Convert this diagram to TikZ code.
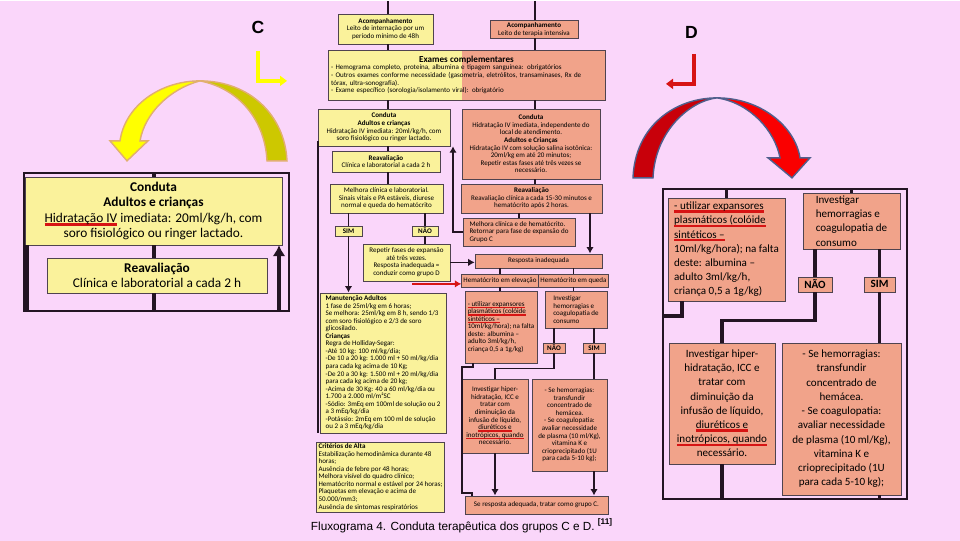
\documentclass[tikz,border=0pt]{standalone}
\usepackage{fontspec}
\setmainfont{Carlito}
\newfontfamily\capfont{Liberation Sans}
\usetikzlibrary{arrows.meta,positioning,calc}
\definecolor{pinkbg}{RGB}{250,214,250}
\definecolor{butter}{RGB}{250,242,155}
\definecolor{salmon}{RGB}{241,163,138}
\definecolor{ink}{RGB}{35,20,35}
\definecolor{ulred}{RGB}{215,20,20}
\definecolor{lemon}{RGB}{255,255,0}
\definecolor{olive}{RGB}{205,200,0}
\definecolor{tan}{RGB}{225,175,110}
\definecolor{blood}{RGB}{200,0,10}
\definecolor{scarlet}{RGB}{250,0,0}
\definecolor{slate}{RGB}{80,95,140}
\newsavebox\ulbox
\newcommand\redul[1]{\sbox\ulbox{#1}\rlap{\textcolor{ulred}{\rule[-0.6ex]{\wd\ulbox}{0.45ex}}}\usebox\ulbox}
\tikzset{
  wh/.style 2 args={minimum width=#1*0.02cm,minimum height=#2*0.02cm},
  cf/.style={font=\fontsize{4}{4.3}\selectfont},
  lpf/.style={font=\fontsize{7.6}{8.8}\selectfont},
  rpf/.style={font=\fontsize{6.3}{8.1}\selectfont},
  ybox/.style={draw=ink!80,fill=butter,line width=0.4pt,inner sep=1pt,align=center,cf},
  sbox/.style={draw=ink!80,fill=salmon,line width=0.4pt,inner sep=1pt,align=center,cf},
  ln/.style={draw=ink,line width=1pt},
  lnb/.style={draw=ink,line width=2.2pt},
  bigtip/.style={-{Latex[length=0.22cm,width=0.26cm]}},
}
\begin{document}
\begin{tikzpicture}[x=0.02cm,y=-0.02cm,>={Latex[length=0.13cm,width=0.15cm]}]
        \fill[pinkbg] (0,0) rectangle (960,540);
        \node[ybox,wh={95}{30}] (acL) at (385.5,28) {\textbf{Acompanhamento}\\Leito de internação por um\\período mínimo de 48h};
        \node[sbox,wh={88}{17}] (acR) at (534,28.5) {\textbf{Acompanhamento}\\Leito de terapia intensiva};
        \node[sbox,wh={277}{50},text width=5.42cm,align=left,
          path picture={\fill[butter] (path picture bounding box.south west) rectangle ($(path picture bounding box.north west)+(134,0)$);}] (ex) at (466.5,74)
          {\makebox[\linewidth]{\fontsize{5.2}{6}\selectfont\bfseries Exames complementares}\\
           - Hemograma completo, proteína, albumina e tipagem sanguínea: obrigatórios\\
           - Outros exames conforme necessidade (gasometria, eletrólitos, transaminases, Rx de\\
           tórax, ultra-sonografia).\\
           - Exame específico (sorologia/isolamento viral): obrigatório};
        \node[ybox,wh={132}{37}] (cdY) at (384,126.5) {\textbf{Conduta}\\\textbf{Adultos e crianças}\\Hidratação IV imediata: 20ml/kg/h, com\\soro fisiológico ou ringer lactado.};
        \node[sbox,wh={138}{70}] (cdS) at (531,143) {\textbf{Conduta}\\Hidratação IV imediata, independente do\\local de atendimento.\\\textbf{Adultos e Crianças}\\Hidratação IV com solução salina isotônica:\\20ml/kg em até 20 minutos;\\Repetir estas fases até três vezes se\\necessário.};
        \node[ybox,wh={108}{21}] (rvY) at (386,160.5) {\textbf{Reavaliação}\\Clínica e laboratorial a cada 2 h};
        \node[ybox,wh={113}{29}] (mhY) at (386.5,197.5) {Melhora clínica e laboratorial.\\Sinais vitais e PA estáveis, diurese\\normal e queda do hematócrito};
        \node[ybox,wh={27}{10}] (simY) at (348.5,230) {\textbf{SIM}};
        \node[ybox,wh={26}{10}] (naoY) at (425,230) {\textbf{NÃO}};
        \node[ybox,wh={87}{37}] (rpY) at (406.5,261.5) {Repetir fases de expansão\\até três vezes.\\Resposta inadequada =\\conduzir como grupo D};
        \node[sbox,wh={141}{29}] (rvS) at (531.5,197.5) {\textbf{Reavaliação}\\Reavaliação clínica a cada 15-30 minutos e\\hematócrito após 2 horas.};
        \node[sbox,wh={112}{28},align=left] (mhS) at (519,231) {Melhora clínica e de hematócrito.\\Retornar para fase de expansão do\\Grupo C};
        \node[sbox,wh={127}{14}] (riS) at (538.5,260) {Resposta inadequada};
        \node[sbox,wh={74}{13}] (heS) at (500,279.5) {Hematócrito em elevação};
        \node[sbox,wh={63}{13}] (hqS) at (573.5,279.5) {Hematócrito em queda};
        \node[sbox,wh={72}{72},align=left] (utS) at (501,326) {\redul{- utilizar expansores}\\\redul{plasmáticos (colóide}\\\redul{sintéticos –}\\10ml/kg/hora); na falta\\deste: albumina –\\adulto 3ml/kg/h,\\criança 0,5 a 1g/kg)};
        \node[sbox,wh={62}{37},align=left] (ihS) at (576,308.5) {Investigar\\hemorragias e\\coagulopatia de\\consumo};
        \node[sbox,wh={22}{10}] (naoS) at (554,347) {\textbf{NÃO}};
        \node[sbox,wh={22}{10}] (simS) at (594,347) {\textbf{SIM}};
        \node[sbox,wh={66}{74}] (hhS) at (495,415) {Investigar hiper-\\hidratação, ICC e\\tratar com\\diminuição da\\infusão de líquido,\\\redul{diuréticos e}\\\redul{inotrópicos, quando}\\necessário.};
        \node[sbox,wh={75}{92}] (shS) at (569.5,424) {- Se hemorragias:\\transfundir\\concentrado de\\hemácea.\\- Se coagulopatia:\\avaliar necessidade\\de plasma (10 ml/Kg),\\vitamina K e\\crioprecipitado (1U\\para cada 5-10 kg);};
        \node[sbox,wh={143}{18}] (fnS) at (536.5,504) {Se resposta adequada, tratar como grupo C.};
        \node[ybox,wh={126}{140},align=left] (mnY) at (383,362) {\textbf{Manutenção Adultos}\\1 fase de 25ml/kg em 6 horas;\\Se melhora: 25ml/kg em 8 h, sendo 1/3\\com soro fisiológico e 2/3 de soro\\glicosilado.\\\textbf{Crianças}\\Regra de Holliday-Segar:\\-Até 10 kg: 100 ml/kg/dia;\\-De 10 a 20 kg: 1.000 ml + 50 ml/kg/dia\\para cada kg acima de 10 Kg;\\-De 20 a 30 kg: 1.500 ml + 20 ml/kg/dia\\para cada kg acima de 20 kg;\\-Acima de 30 Kg: 40 a 60 ml/kg/dia ou\\1.700 a 2.000 ml/m²SC\\-Sódio: 3mEq em 100ml de solução ou 2\\a 3 mEq/kg/dia\\-Potássio: 2mEq em 100 ml de solução\\ou 2 a 3 mEq/kg/dia};
        \node[ybox,wh={125}{70},align=left] (caY) at (380.5,476) {\textbf{Critérios de Alta}\\Estabilização hemodinâmica durante 48\\horas;\\Ausência de febre por 48 horas;\\Melhora visível do quadro clínico;\\Hematócrito normal e estável por 24 horas;\\Plaquetas em elevação e acima de\\50.000/mm3;\\Ausência de sintomas respiratórios};
        \node[font=\capfont\fontsize{6.7}{8}\selectfont] (cap) at (462,525) {Fluxograma 4. Conduta terapêutica dos grupos C e D. \textsuperscript{\bfseries[11]}};
        \coordinate (topL) at (388,0);
        \coordinate (topR) at (535,0);
        \coordinate (xR) at (590,0);
        \coordinate (ret) at (453,0);
        \coordinate (lft) at (318,0);
        \draw[ln] (topL) -- (topL |- acL.north);
        \draw[ln] (topR) -- (topR |- acR.north);
        \draw[ln] (topL |- acL.south) -- (topL |- ex.north);
        \draw[ln] (topR |- acR.south) -- (topR |- ex.north);
        \draw[ln] (topL |- ex.south) -- (topL |- cdY.north);
        \draw[ln] (topR |- ex.south) -- (topR |- cdS.north);
        \draw[ln] (topL |- cdY.south) -- (topL |- rvY.north);
        \draw[ln] (topL |- rvY.south) -- (topL |- mhY.north);
        \draw[ln] (simY |- mhY.south) -- (simY.north);
        \draw[ln] (naoY |- mhY.south) -- (naoY.north);
        \draw[ln,->] (simY.south) -- (simY |- mnY.north);
        \draw[ln] (naoY.south) -- (naoY |- rpY.north);
        \draw[ln,->] (rpY.east) -- (rpY.east -| riS.west);
        \draw[ln] (topR |- cdS.south) -- (topR |- rvS.north);
        \draw[ln] (mhS.north |- rvS.south) -- (mhS.north);
        \draw[ln,->] (xR |- rvS.south) -- (xR |- riS.north);
        \draw[ln,->] (mhS.west) -| (ret |- cdY.south);
        \draw[ln] ($(lft |- cdY.south)+(0,-5)$) -- (lft |- mnY.south);
        \draw[ln] (heS.north |- riS.south) -- (heS.north);
        \draw[ln] (hqS.north |- riS.south) -- (hqS.north);
        \draw[ln] (heS.south) -- (heS.south |- utS.north);
        \draw[ln] (hqS.south) -- (hqS.south |- ihS.north);
        \draw[ln] (naoS |- ihS.south) -- (naoS.north);
        \draw[ln] (simS |- ihS.south) -- (simS.north);
        \draw[ln] (naoS.south) |- ($(hhS.north)+(0,-10)$) -- (hhS.north);
        \draw[ln] (simS.south) -- (simS |- shS.north);
        \coordinate (uA) at (473,366);
        \coordinate (uB) at (462,366);
        \coordinate (uC) at (462,492);
        \coordinate (uD) at (472,492);
        \draw[ln] (uA |- utS.south) -- (uA) -- (uB) -- (uC) -- (uD) -- (uD |- fnS.north);
        \draw[ln,->] (hhS.south) -- (hhS.south |- fnS.north);
        \draw[ln,->] (simS |- shS.south) -- (simS |- fnS.north);
        \coordinate (gd) at (412,283);
        \draw[ulred,line width=1pt,->] (gd) -- (gd -| heS.west);
        \node[draw=ink,line width=0.8pt,wh={265}{138}] (lpan) at (156.5,241) {};
        \node[ybox,lpf,wh={257}{68}] (lcd) at (153.5,210) {\textbf{Conduta}\\\textbf{Adultos e crianças}\\\redul{Hidratação IV} imediata: 20ml/kg/h, com\\soro fisiológico ou ringer lactado.};
        \node[ybox,lpf,wh={220}{35}] (lrv) at (157,274.5) {\textbf{Reavaliação}\\Clínica e laboratorial a cada 2 h};
        \coordinate (lmid) at (154,0);
        \coordinate (lleft) at (27,0);
        \coordinate (lup) at (279,0);
        \draw[lnb] (lmid |- lpan.north) -- (lmid |- lcd.north);
        \draw[lnb] (lmid |- lcd.south) -- (lmid |- lrv.north);
        \draw[lnb] (lmid |- lrv.south) -- (lmid |- lpan.south);
        \draw[lnb] (lleft |- lcd.south) -- (lleft |- lpan.south);
        \draw[lnb,bigtip] (lup |- lpan.south) -- (lup |- lcd.south);
        \node[draw=ink,line width=0.8pt,wh={244}{310}] (rpan) at (785,343) {};
        \node[sbox,rpf,wh={117}{103},align=left] (rut) at (726.5,248.5) {\redul{- utilizar expansores}\\\redul{plasmáticos (colóide}\\\redul{sintéticos –}\\10ml/kg/hora); na falta\\deste: albumina –\\adulto 3ml/kg/h,\\criança 0,5 a 1g/kg)};
        \node[sbox,rpf,wh={97}{56},align=left] (rih) at (851.5,220) {Investigar\\hemorragias e\\coagulopatia de\\consumo};
        \node[sbox,rpf,wh={34}{15}] (rnao) at (815,283.5) {\textbf{NÃO}};
        \node[sbox,rpf,wh={31}{15}] (rsim) at (879.5,283.5) {\textbf{SIM}};
        \node[sbox,rpf,wh={106}{121}] (rhh) at (722,402.5) {Investigar hiper-\\hidratação, ICC e\\tratar com\\diminuição da\\infusão de líquido,\\\redul{diuréticos e}\\\redul{inotrópicos, quando}\\necessário.};
        \node[sbox,rpf,wh={119}{152}] (rsh) at (841.5,418) {- Se hemorragias:\\transfundir\\concentrado de\\hemácea.\\- Se coagulopatia:\\avaliar necessidade\\de plasma (10 ml/Kg),\\vitamina K e\\crioprecipitado (1U\\para cada 5-10 kg);};
        \coordinate (rk) at (682,315);
        \draw[lnb] (rut.north |- rpan.north) -- (rut.north);
        \draw[lnb] (rih.north |- rpan.north) -- (rih.north);
        \draw[lnb] (rnao |- rih.south) -- (rnao.north);
        \draw[lnb] (rsim |- rih.south) -- (rsim.north);
        \draw[lnb] (rnao.south) |- ($(rhh.north)+(0,-22)$) -- (rhh.north);
        \draw[lnb] (rsim.south) -- (rsim |- rsh.north);
        \draw[lnb] (rk |- rut.south) -- (rk) -- (rk -| rpan.west);
        \draw[lnb] (rhh.south) -- (rhh.south |- rpan.south);
        \draw[lnb] (rsim |- rsh.south) -- (rsim |- rpan.south);
        \fill[olive,draw=tan,line width=0.8pt] (200,80) .. controls (250,80) and (285,115) .. (287,160) -- (267,160) .. controls (265,120) and (240,88) .. (200,80) -- cycle;
        \fill[lemon,draw=tan,line width=0.8pt] (200,80) .. controls (160,80) and (125,105) .. (120,140) -- (110,140) -- (127,160) -- (148,140) -- (140,140) .. controls (145,112) and (170,88) .. (200,80) -- cycle;
        \fill[blood,draw=slate,line width=0.8pt] (633,177) .. controls (635,125) and (675,97) .. (717,97) .. controls (690,100) and (655,130) .. (653,177) -- cycle;
        \fill[scarlet,draw=slate,line width=0.8pt] (717,97) .. controls (760,97) and (795,125) .. (800,157) -- (810,157) -- (792,177) -- (768,157) -- (780,157) .. controls (775,130) and (750,102) .. (717,97) -- cycle;
        \node[font=\capfont\bfseries\fontsize{10}{12}\selectfont] (lblC) at (258,27) {C};
        \node[font=\capfont\bfseries\fontsize{10}{12}\selectfont] (lblD) at (691.5,32) {D};
        \coordinate (cL1) at (258,50);
        \coordinate (cL2) at (258,80);
        \coordinate (cL3) at (287,80);
        \draw[lemon,line width=2.3pt,-{Triangle[length=0.14cm,width=0.2cm]}] (cL1) -- (cL2) -- (cL3);
        \coordinate (dL1) at (694,53);
        \coordinate (dL2) at (694,83);
        \coordinate (dL3) at (666,83);
        \draw[ulred,line width=2.3pt,-{Triangle[length=0.14cm,width=0.2cm]}] (dL1) -- (dL2) -- (dL3);
      \end{tikzpicture}
\end{document}
